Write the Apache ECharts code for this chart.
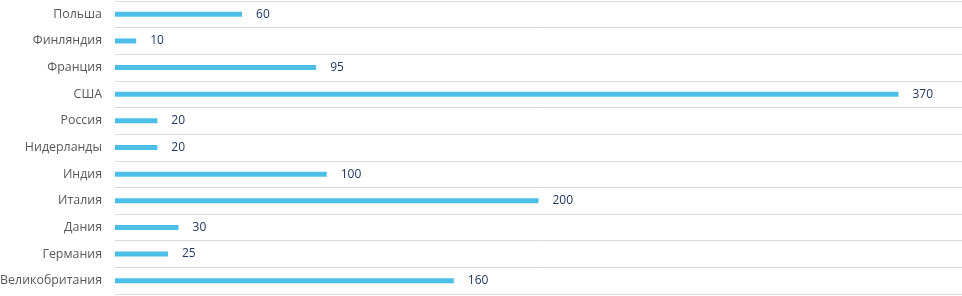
<!DOCTYPE html>
<html><head><meta charset="utf-8">
<script src="https://cdn.jsdelivr.net/npm/echarts@6/dist/echarts.min.js"></script>
<style>html,body{margin:0;padding:0;background:#fff}#c{width:962px;height:296px}</style>
</head><body><div id="c"></div>
<script>
const categories = ['Польша','Финляндия','Франция','США','Россия','Нидерланды','Индия','Италия','Дания','Германия','Великобритания'];
const values = [60,10,95,370,20,20,100,200,30,25,160];

const chart = echarts.init(document.getElementById('c'));
chart.setOption({
  animation: false,
  grid: {left: 115, right: 0, top: 1, bottom: 2, containLabel: false, outerBoundsMode: 'none'},
  xAxis: {type: 'value', min: 0, max: 400, show: false},
  yAxis: {
    type: 'category', data: categories, inverse: true,
    axisLine: {show: false}, axisTick: {show: false},
    axisLabel: {color: '#595959', fontFamily: 'Open Sans', fontSize: 12.4, margin: 13},
    splitLine: {show: true, lineStyle: {color: '#d9d9d9', width: 1}}
  },
  series: [{
    type: 'bar', data: values, barWidth: 5,
    itemStyle: {color: '#4bbfe8'},
    label: {show: true, position: 'right', distance: 14, color: '#1f3864', fontFamily: 'Open Sans', fontSize: 12}
  }]
});
</script></body></html>
